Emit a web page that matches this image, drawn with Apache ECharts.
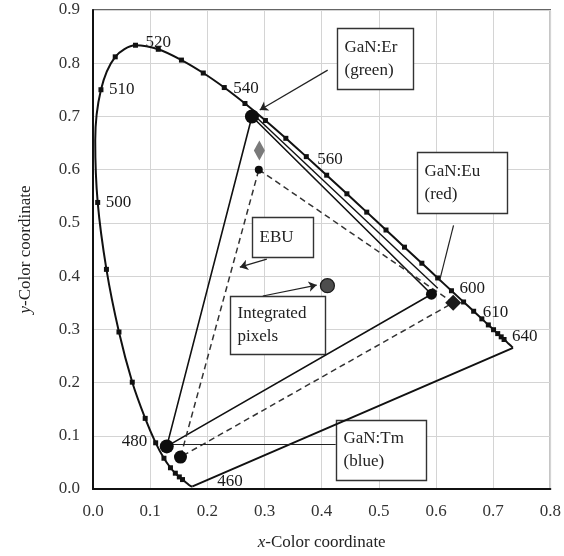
<!DOCTYPE html>
<html>
<head>
<meta charset="utf-8">
<script src="https://cdn.jsdelivr.net/npm/echarts@6/dist/echarts.min.js"></script>
<style>
  html, body { margin: 0; padding: 0; background: #fff; }
  #chart { width: 564px; height: 556px; }
</style>
</head>
<body>
<div id="chart"></div>
<script>
// CIE 1931 spectral locus, 5 nm steps
const locusNm = [380,385,390,395,400,405,410,415,420,425,430,435,440,445,450,455,460,465,470,475,480,485,490,495,500,505,510,515,520,525,530,535,540,545,550,555,560,565,570,575,580,585,590,595,600,605,610,615,620,625,630,635,640,645,650,660,670,680,690,700];
const locusX = [0.1741,0.1740,0.1738,0.1736,0.1733,0.1730,0.1726,0.1721,0.1714,0.1703,0.1689,0.1669,0.1644,0.1611,0.1566,0.1510,0.1440,0.1355,0.1241,0.1096,0.0913,0.0687,0.0454,0.0235,0.0082,0.0039,0.0139,0.0389,0.0743,0.1142,0.1547,0.1929,0.2296,0.2658,0.3016,0.3373,0.3731,0.4087,0.4441,0.4788,0.5125,0.5448,0.5752,0.6029,0.6270,0.6482,0.6658,0.6801,0.6915,0.7006,0.7079,0.7140,0.7190,0.7230,0.7260,0.7300,0.7320,0.7334,0.7344,0.7347];
const locusY = [0.0050,0.0050,0.0049,0.0049,0.0048,0.0048,0.0048,0.0048,0.0051,0.0058,0.0069,0.0086,0.0109,0.0138,0.0177,0.0227,0.0297,0.0399,0.0578,0.0868,0.1327,0.2007,0.2950,0.4127,0.5384,0.6548,0.7502,0.8120,0.8338,0.8262,0.8059,0.7816,0.7543,0.7243,0.6923,0.6589,0.6245,0.5896,0.5547,0.5202,0.4866,0.4544,0.4242,0.3965,0.3725,0.3514,0.3340,0.3197,0.3083,0.2993,0.2920,0.2859,0.2809,0.2770,0.2740,0.2700,0.2680,0.2666,0.2656,0.2653];

// wavelengths marked with a dot on the locus
const dotNm = [450,455,460,465,470,475,480,485,490,495,500,510,515,520,525,530,535,540,545,550,555,560,565,570,575,580,585,590,595,600,605,610,615,620,625,630,635,640];
// wavelengths written next to the locus
const labelNm = [460,480,500,510,520,540,560,600,610,640];

// colour coordinates (x, y)
const gamutNames = ['GaN:Er', 'GaN:Eu', 'GaN:Tm'];
const gamutX = [0.278, 0.592, 0.129];
const gamutY = [0.700, 0.366, 0.080];
const ebuX = [0.290, 0.630, 0.153];
const ebuY = [0.600, 0.350, 0.060];
const greenSpotX = [0.291];
const greenSpotY = [0.636];
const integratedX = [0.410];
const integratedY = [0.382];
const euLineEnd = [0.603, 0.377];

// ---- layout (annotation boxes and leader lines, in axis units) ----
const SERIF = '"Liberation Serif", "Times New Roman", serif';
const boxes = [
  { lines: ['GaN:Er', '(green)'],     x: 0.4262, y: 0.8654, w: 76, h: 61 },
  { lines: ['GaN:Eu', '(red)'],       x: 0.5660, y: 0.6336, w: 90, h: 61 },
  { lines: ['EBU'],                   x: 0.2777, y: 0.5103, w: 61, h: 40 },
  { lines: ['Integrated', 'pixels'],  x: 0.2393, y: 0.3626, w: 95, h: 58 },
  { lines: ['GaN:Tm', '(blue)'],      x: 0.4245, y: 0.1290, w: 90, h: 60 }
];
const leaders = [
  { from: [0.4105, 0.787], to: [0.2917, 0.712], arrow: true },
  { from: [0.6306, 0.4953], to: [0.606, 0.3907], arrow: false },
  { from: [0.304, 0.4318], to: [0.2568, 0.4168], arrow: true },
  { from: [0.297, 0.3626], to: [0.3913, 0.3832], arrow: true },
  { from: [0.4245, 0.0841], to: [0.1293, 0.0841], arrow: false }
];
const labelOffsets = {
  460: ['right', 37, 8], 480: ['left', 7, 23], 500: ['right', 3, 0], 510: ['right', 3, 0],
  520: ['right', 5, -3], 540: ['right', 4, 1], 560: ['right', 6, 3], 600: ['right', 3, -2],
  610: ['right', 4, 1], 640: ['right', 3, -3]
};

function locusPoint(nm) {
  const i = locusNm.indexOf(nm);
  return [locusX[i], locusY[i]];
}

const locusData = locusNm.map((nm, i) => [locusX[i], locusY[i]]);
const purpleLine = [locusData[locusData.length - 1], locusData[0]];
const gamut = gamutX.map((x, i) => [x, gamutY[i]]);
const ebu = ebuX.map((x, i) => [x, ebuY[i]]);

const chart = echarts.init(document.getElementById('chart'), null, { renderer: 'canvas' });

const lineBase = { type: 'line', showSymbol: false, symbol: 'none', silent: true, animation: false };

chart.setOption({
  animation: false,
  backgroundColor: '#fff',
  textStyle: { fontFamily: SERIF },
  grid: { left: 93, right: 13, top: 10, bottom: 65, show: true, borderColor: '#333', borderWidth: 1.3 },
  xAxis: {
    type: 'value', min: 0, max: 0.8, interval: 0.1,
    name: '{i|x}-Color coordinate', nameLocation: 'middle', nameGap: 45,
    nameTextStyle: { fontFamily: SERIF, fontSize: 17, color: '#222', rich: { i: { fontStyle: 'italic', fontFamily: SERIF, fontSize: 17, color: '#222' } } },
    axisLine: { show: true, lineStyle: { color: '#111', width: 2 } },
    axisTick: { show: false },
    axisLabel: { margin: 14, fontFamily: SERIF, fontSize: 17, color: '#333', formatter: v => v.toFixed(1) },
    splitLine: { show: true, lineStyle: { color: '#d4d4d4', width: 1 } }
  },
  yAxis: {
    type: 'value', min: 0, max: 0.9, interval: 0.1,
    name: '{i|y}-Color coordinate', nameLocation: 'middle', nameGap: 59, nameRotate: 90,
    nameTextStyle: { fontFamily: SERIF, fontSize: 17, color: '#222', rich: { i: { fontStyle: 'italic', fontFamily: SERIF, fontSize: 17, color: '#222' } } },
    axisLine: { show: true, lineStyle: { color: '#111', width: 2 } },
    axisTick: { show: false },
    axisLabel: { margin: 13, fontFamily: SERIF, fontSize: 17, color: '#333', formatter: v => v.toFixed(1) },
    splitLine: { show: true, lineStyle: { color: '#d4d4d4', width: 1 } }
  },
  series: [
    Object.assign({}, lineBase, { name: 'locus', data: locusData, smooth: 0.3, lineStyle: { color: '#111', width: 2 }, z: 3 }),
    Object.assign({}, lineBase, { name: 'purple', data: purpleLine, lineStyle: { color: '#111', width: 2 }, z: 3 }),
    {
      name: 'dots', type: 'scatter', silent: true, symbol: 'rect', symbolSize: 5,
      itemStyle: { color: '#111', opacity: 1 }, z: 4,
      data: dotNm.map(locusPoint)
    },
    {
      name: 'wavelengths', type: 'scatter', silent: true, symbolSize: 0, z: 6,
      itemStyle: { opacity: 1 },
      data: labelNm.map(nm => {
        const o = labelOffsets[nm];
        return {
          value: locusPoint(nm).concat(nm),
          label: { show: true, position: o[0], offset: [o[1], o[2]], distance: 5,
                   formatter: p => String(p.value[2]), fontFamily: SERIF, fontSize: 17, color: '#1a1a1a' }
        };
      })
    },
    Object.assign({}, lineBase, { name: 'GaN gamut', data: gamut.concat([gamut[0]]), lineStyle: { color: '#111', width: 1.6 }, z: 4 }),
    Object.assign({}, lineBase, { name: 'GaN:Eu edge', data: [[gamut[0][0] + 0.003, gamut[0][1] + 0.003], euLineEnd], lineStyle: { color: '#111', width: 1.4 }, z: 4 }),
    Object.assign({}, lineBase, { name: 'EBU', data: ebu.concat([ebu[0]]), lineStyle: { color: '#333', width: 1.5, type: [6, 4] }, z: 4 }),
    {
      name: 'leaders', type: 'lines', coordinateSystem: 'cartesian2d', silent: true, z: 5,
      lineStyle: { color: '#222', width: 1.2, opacity: 1 },
      data: leaders.map(l => ({
        coords: [l.from, l.to],
        symbol: l.arrow ? ['none', 'arrow'] : ['none', 'none'],
        symbolSize: [0, 8]
      }))
    },
    {
      name: 'markers', type: 'scatter', silent: true, z: 7,
      itemStyle: { opacity: 1 },
      data: [
        { value: gamut[0], symbol: 'circle', symbolSize: 14, itemStyle: { color: '#0d0d0d', opacity: 1 } },
        { value: gamut[1], symbol: 'circle', symbolSize: 11, itemStyle: { color: '#0d0d0d', opacity: 1 } },
        { value: gamut[2], symbol: 'circle', symbolSize: 14, itemStyle: { color: '#0d0d0d', opacity: 1 } },
        { value: [greenSpotX[0], greenSpotY[0]], symbol: 'diamond', symbolSize: [11, 20], itemStyle: { color: '#7a7a7a', opacity: 1 } },
        { value: ebu[0], symbol: 'circle', symbolSize: 8, itemStyle: { color: '#0d0d0d', opacity: 1 } },
        { value: ebu[1], symbol: 'diamond', symbolSize: [16, 16], itemStyle: { color: '#1a1a1a', opacity: 1 } },
        { value: ebu[2], symbol: 'circle', symbolSize: 13, itemStyle: { color: '#0d0d0d', opacity: 1 } },
        { value: [integratedX[0], integratedY[0]], symbol: 'circle', symbolSize: 14, itemStyle: { color: '#4d4d4d', borderColor: '#1a1a1a', borderWidth: 1.2, opacity: 1 } }
      ]
    }
  ]
});

// annotation boxes placed through the axis scales
const graphics = [];
boxes.forEach(b => {
  const p = chart.convertToPixel({ gridIndex: 0 }, [b.x, b.y]);
  graphics.push({
    type: 'group', x: Math.round(p[0]) + 0.5, y: Math.round(p[1]) + 0.5, z: 20,
    children: [
      { type: 'rect', shape: { x: 0, y: 0, width: b.w, height: b.h },
        style: { fill: '#fff', stroke: '#333', lineWidth: 1.4 } },
      { type: 'text', x: 7, y: b.h / 2,
        style: { text: b.lines.join('\n'), font: '17px ' + SERIF, fill: '#222',
                 align: 'left', verticalAlign: 'middle', lineHeight: 23 } }
    ]
  });
});
chart.setOption({ graphic: graphics });
</script>
</body>
</html>
